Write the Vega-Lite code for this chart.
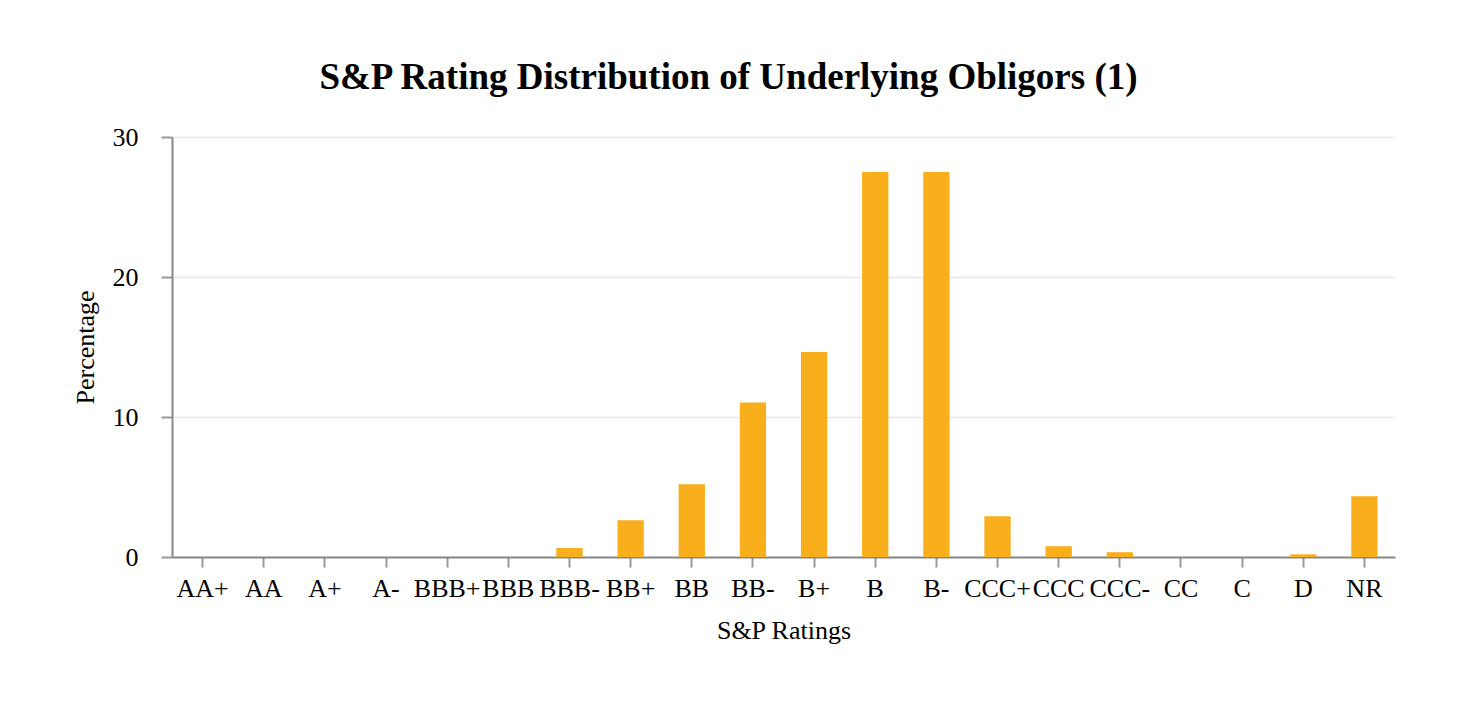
{
  "$schema": "https://vega.github.io/schema/vega-lite/v6.json",
  "autosize": {"type": "none"},
  "width": 1223,
  "height": 420,
  "padding": {"left": 172, "top": 137, "right": 65, "bottom": 153},
  "background": "white",
  "title": {
    "text": "S&P Rating Distribution of Underlying Obligors (1)",
    "font": "Liberation Serif",
    "fontSize": 37,
    "fontWeight": "bold",
    "color": "black",
    "anchor": "middle",
    "frame": "group",
    "dx": -55,
    "baseline": "alphabetic",
    "offset": -2
  },
  "data": {
    "values": [
      {"rating": "AA+", "pct": 0},
      {"rating": "AA", "pct": 0},
      {"rating": "A+", "pct": 0},
      {"rating": "A-", "pct": 0},
      {"rating": "BBB+", "pct": 0},
      {"rating": "BBB", "pct": 0},
      {"rating": "BBB-", "pct": 0.64},
      {"rating": "BB+", "pct": 2.62},
      {"rating": "BB", "pct": 5.2},
      {"rating": "BB-", "pct": 11.04},
      {"rating": "B+", "pct": 14.64},
      {"rating": "B", "pct": 27.5},
      {"rating": "B-", "pct": 27.5},
      {"rating": "CCC+", "pct": 2.91},
      {"rating": "CCC", "pct": 0.77},
      {"rating": "CCC-", "pct": 0.34},
      {"rating": "CC", "pct": 0},
      {"rating": "C", "pct": 0},
      {"rating": "D", "pct": 0.19},
      {"rating": "NR", "pct": 4.34}
    ]
  },
  "mark": {"type": "bar", "color": "#F9AE1B"},
  "encoding": {
    "x": {
      "field": "rating",
      "type": "nominal",
      "sort": null,
      "scale": {"paddingInner": 0.57, "paddingOuter": 0.285},
      "axis": {
        "title": "S&P Ratings",
        "labelAngle": 0,
        "labelFont": "Liberation Serif",
        "labelFontSize": 26,
        "labelColor": "black",
        "labelPadding": 8,
        "labelOverlap": false,
        "titleFont": "Liberation Serif",
        "titleFontSize": 26,
        "titleFontWeight": "normal",
        "titleColor": "black",
        "titlePadding": 16,
        "domainColor": "#888888",
        "domainWidth": 2,
        "tickColor": "#999999",
        "tickWidth": 2,
        "tickSize": 10,
        "grid": false
      }
    },
    "y": {
      "field": "pct",
      "type": "quantitative",
      "scale": {"domain": [0, 30]},
      "axis": {
        "title": "Percentage",
        "values": [0, 10, 20, 30],
        "labelFont": "Liberation Serif",
        "labelFontSize": 26,
        "labelColor": "black",
        "labelPadding": 23,
        "titleFont": "Liberation Serif",
        "titleFontSize": 26,
        "titleFontWeight": "normal",
        "titleColor": "black",
        "titleX": -74,
        "titleBaseline": "bottom",
        "domainColor": "#888888",
        "domainWidth": 2,
        "tickColor": "#999999",
        "tickWidth": 2,
        "tickSize": 11,
        "gridColor": "#e6e6e6",
        "gridWidth": 1.5
      }
    }
  },
  "config": {"view": {"stroke": null}}
}
